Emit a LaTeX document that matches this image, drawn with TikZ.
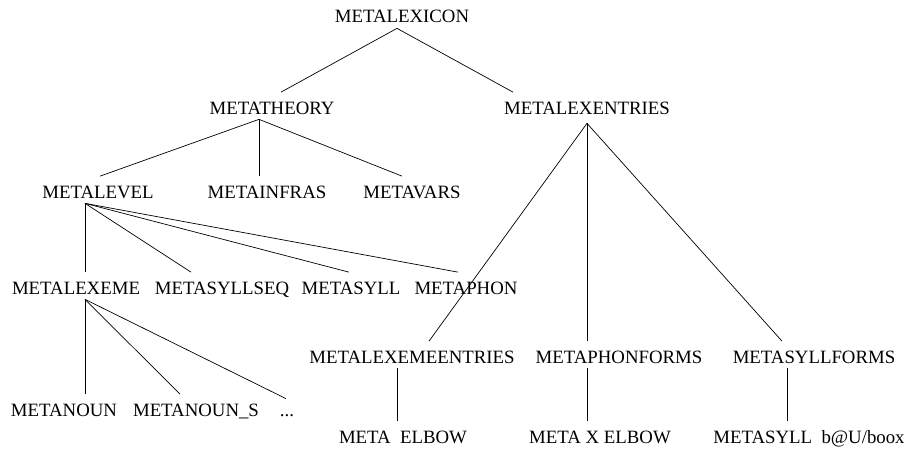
\documentclass[tikz,border=0pt]{standalone}
\usepackage{fontspec}
\setmainfont{Liberation Serif}
\usepackage{tikz}

\begin{document}
\begin{tikzpicture}[x=1pt, y=-1pt, line width=0.7pt,
		lbl/.style={anchor=base, inner xsep=0pt, inner ysep=5pt, text height=16.5pt, text depth=0pt,
			font=\fontsize{18.8}{22}\selectfont}]
	\useasboundingbox (0, 0) rectangle (913, 460);
	% labels, each at (centre, baseline)
	\node[lbl] (lexicon) at (402, 23) {METALEXICON};
	\node[lbl] (theory) at (272, 114) {METATHEORY};
	\node[lbl] (lexentries) at (587, 114) {METALEXENTRIES};
	\node[lbl] (level) at (98, 198) {METALEVEL};
	\node[lbl] (infras) at (267, 198) {METAINFRAS};
	\node[lbl] (vars) at (412, 198) {METAVARS};
	\node[lbl] (lexeme) at (76, 294) {METALEXEME};
	\node[lbl] (syllseq) at (222, 294) {METASYLLSEQ};
	\node[lbl] (syll) at (351, 294) {METASYLL};
	\node[lbl] (phon) at (466, 294) {METAPHON};
	\node[lbl] (noun) at (64, 416) {METANOUN};
	\node[lbl] (nouns) at (196, 416) {METANOUN\_S};
	\node[lbl] (dots) at (287, 416) {...};
	\node[lbl] (lexemeentries) at (412, 363) {METALEXEMEENTRIES};
	\node[lbl] (phonforms) at (619, 363) {METAPHONFORMS};
	\node[lbl] (syllforms) at (814, 363) {METASYLLFORMS};
	\node[lbl] (elbow) at (403, 443) {META\ \ ELBOW};
	\node[lbl] (xelbow) at (600, 443) {META\ X\ ELBOW};
	\node[lbl] (syllbook) at (809, 443) {METASYLL\ \ b@U/boox};

	% edges: parent/shift/child/shift
	\foreach \p/\pdx/\c/\cdx in {lexicon/-5/theory/9, lexicon/-5/lexentries/-74,
			theory/-13/level/2, theory/-13/infras/-8, theory/-13/vars/-10,
			level/-13/lexeme/9, level/-13/syllseq/-31, level/-13/syll/-2, level/-13/phon/-8,
			lexeme/9/noun/21, lexeme/9/nouns/-16,
			lexemeentries/-15/elbow/-6, phonforms/-32/xelbow/-13, syllforms/-27/syllbook/-22}
		\draw ([xshift=\pdx pt]\p.south) -- ([xshift=\cdx pt]\c.north);
	\draw ([xshift=9pt]lexeme.south) -- ([xshift=-1pt, yshift=-4.5pt]dots.north);
	\foreach \c/\cdx in {lexemeentries/17, phonforms/-32, syllforms/-32}
		\draw ([yshift=-4pt]lexentries.south) -- ([xshift=\cdx pt]\c.north);
\end{tikzpicture}
\end{document}
